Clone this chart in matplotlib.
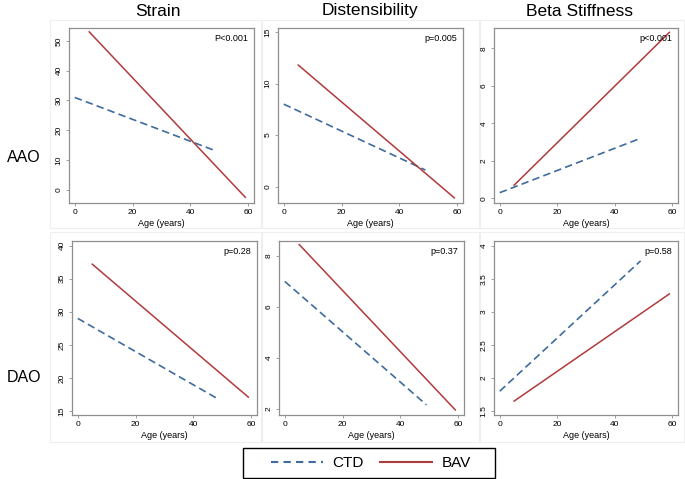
import matplotlib
matplotlib.use("Agg")
import matplotlib.pyplot as plt
from matplotlib.lines import Line2D
from matplotlib.patches import Rectangle

plt.rcParams['font.family'] = ['Liberation Sans', 'DejaVu Sans']

# fitted lines: (age start, age end) and (value start, value end)
ctd_age = [0, 49]
bav_age = [5, 59]

aao_strain_ctd = [31, 13]
aao_strain_bav = [53, -2.5]
aao_dist_ctd = [8.0, 1.6]
aao_dist_bav = [11.8, -1.1]
aao_beta_ctd = [0.3, 3.2]
aao_beta_bav = [0.7, 8.85]

dao_strain_ctd = [29, 16.7]
dao_strain_bav = [37.2, 17.1]
dao_dist_ctd = [7.0, 2.15]
dao_dist_bav = [8.45, 1.95]
dao_beta_ctd = [1.8, 3.77]
dao_beta_bav = [1.65, 3.27]

col_titles = ["Strain", "Distensibility", "Beta Stiffness"]
row_labels = ["AAO", "DAO"]
p_values = [["P<0.001", "p=0.005", "p<0.001"],
            ["p=0.28", "p=0.37", "p=0.58"]]
x_ticks = [0, 20, 40, 60]
y_ticks = [[[0, 10, 20, 30, 40, 50], [0, 5, 10, 15], [0, 2, 4, 6, 8]],
           [[15, 20, 25, 30, 35, 40], [2, 4, 6, 8], [1.5, 2, 2.5, 3, 3.5, 4]]]
y_ticklabels = [[None, None, None],
                [None, None, ["1.5", "2", "2.5", "3", "3.5", "4"]]]
y_lims = [[(-4.4, 54.3), (-1.6, 15.4), (-0.25, 9.08)],
          [(14.4, 40.7), (1.75, 8.59), (1.44, 4.07)]]
series = [[(aao_strain_ctd, aao_strain_bav), (aao_dist_ctd, aao_dist_bav), (aao_beta_ctd, aao_beta_bav)],
          [(dao_strain_ctd, dao_strain_bav), (dao_dist_ctd, dao_dist_bav), (dao_beta_ctd, dao_beta_bav)]]

W, H = 685, 479
CTD_COLOR = '#3f6b9e'
BAV_COLOR = '#b03a3c'
SPINE = '#8f8f8f'

# axes boxes in pixels: left, top, right, bottom
boxes = [[(69, 28, 254, 203), (278, 28, 463, 203), (494, 28, 678, 203)],
         [(72, 241, 257, 415), (279, 241, 464, 415), (494, 241, 678, 415)]]
frames = [[(50, 20, 261, 228), (262, 20, 479, 228), (480, 20, 684, 228)],
          [(50, 232, 261, 442), (262, 232, 479, 442), (480, 232, 684, 442)]]

fig = plt.figure(figsize=(W / 100, H / 100), dpi=100)

for r in range(2):
    for c in range(3):
        fl, ft, fr, fb = frames[r][c]
        fig.patches.append(Rectangle((fl / W, 1 - fb / H), (fr - fl) / W, (fb - ft) / H,
                                     transform=fig.transFigure, fill=False,
                                     edgecolor='#efefef', lw=0.8, zorder=-1))
        l, t, rt, b = boxes[r][c]
        ax = fig.add_axes([l / W, 1 - b / H, (rt - l) / W, (b - t) / H])
        ctd, bav = series[r][c]
        ax.plot(ctd_age, ctd, color=CTD_COLOR, lw=1.2, linestyle=(0, (4.5, 2.5)))
        ax.plot(bav_age, bav, color=BAV_COLOR, lw=1.1)
        ax.set_xlim(-2, 62)
        ax.set_ylim(*y_lims[r][c])
        ax.set_xticks(x_ticks)
        ax.set_yticks(y_ticks[r][c])
        if y_ticklabels[r][c] is not None:
            ax.set_yticklabels(y_ticklabels[r][c])
        ax.tick_params(axis='both', labelsize=6, length=2.5, width=0.6,
                       color=SPINE, pad=2)
        for lab in ax.get_yticklabels():
            lab.set_rotation(90)
            lab.set_va('center')
        for s in ax.spines.values():
            s.set_color(SPINE)
            s.set_linewidth(0.9)
        ax.set_xlabel("Age (years)", fontsize=6.5, labelpad=2)
        ax.text(0.97, 0.965, p_values[r][c], transform=ax.transAxes,
                ha='right', va='top', fontsize=6.5)

title_x = [158, 370, 580]
for c in range(3):
    fig.text(title_x[c] / W, 1 - 11 / H, col_titles[c], ha='center', va='center', fontsize=12.5)
row_y = [158, 378]
for r in range(2):
    fig.text(24 / W, 1 - row_y[r] / H, row_labels[r], ha='center', va='center', fontsize=11.5)

# legend box drawn separately so padding matches
fig.patches.append(Rectangle((243 / W, 1 - 478 / H), (495 - 243) / W, 30 / H,
                             transform=fig.transFigure, fill=False,
                             edgecolor='black', lw=1.0))
handles = [Line2D([], [], color=CTD_COLOR, lw=1.5, linestyle=(0, (3.5, 2.5))),
           Line2D([], [], color=BAV_COLOR, lw=1.5)]
fig.legend(handles, ["CTD", "BAV"], loc='center', bbox_to_anchor=(371 / W, 1 - 463 / H),
           ncol=2, fontsize=11, frameon=False, handlelength=3.4,
           columnspacing=1.1, handletextpad=0.6, borderpad=0.2)

fig.savefig("out.png", dpi=100)
